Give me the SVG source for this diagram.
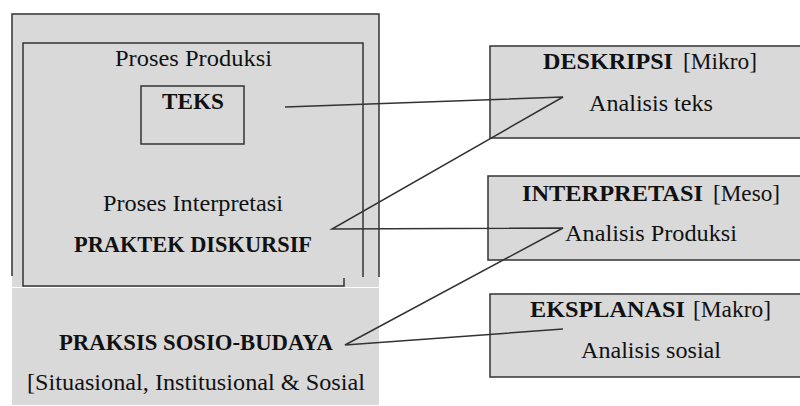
<svg xmlns="http://www.w3.org/2000/svg" width="800" height="406" viewBox="0 0 800 406">
<style>
text{font-family:"Liberation Serif","Times New Roman",serif;font-size:23px;fill:#111}
.b{font-weight:bold}
.box{fill:#d9d9d9;stroke:#333;stroke-width:1.5}
.ln{fill:none;stroke:#333;stroke-width:1.5}
.cn{fill:none;stroke:#333;stroke-width:1.5;stroke-linejoin:miter}
</style>
<rect width="800" height="406" fill="#fff"/>
<g id="left-frame">
<rect x="12" y="14" width="367" height="273" fill="#d9d9d9"/>
<rect x="12" y="288" width="367" height="117" fill="#d9d9d9"/>
<polyline class="ln" points="12,276 12,14 379,14 379,277"/>
<polyline class="ln" points="363,277 363,43 23,43 23,286 344,286 344,278"/>
</g>
<g id="proses-produksi">
<text x="115" y="66" textLength="157" lengthAdjust="spacingAndGlyphs">Proses Produksi</text>
</g>
<g id="teks">
<rect class="ln" x="141" y="86" width="103" height="58"/>
<text class="b" x="162" y="109" textLength="62" lengthAdjust="spacingAndGlyphs">TEKS</text>
</g>
<g id="praktek-diskursif">
<text x="103" y="211" textLength="180" lengthAdjust="spacingAndGlyphs">Proses Interpretasi</text>
<text class="b" x="74" y="252" textLength="238" lengthAdjust="spacingAndGlyphs">PRAKTEK DISKURSIF</text>
</g>
<g id="praksis-sosio-budaya">
<text class="b" x="59" y="350" textLength="274" lengthAdjust="spacingAndGlyphs">PRAKSIS SOSIO-BUDAYA</text>
<text x="27" y="390" textLength="338" lengthAdjust="spacingAndGlyphs">[Situasional, Institusional &amp; Sosial</text>
</g>
<g id="deskripsi">
<rect class="box" x="490" y="46" width="320" height="92"/>
<text class="b" x="543" y="69" textLength="130" lengthAdjust="spacingAndGlyphs">DESKRIPSI</text>
<text x="683" y="69" textLength="74" lengthAdjust="spacingAndGlyphs">[Mikro]</text>
<text x="589" y="111" textLength="124" lengthAdjust="spacingAndGlyphs">Analisis teks</text>
</g>
<g id="interpretasi">
<rect class="box" x="488" y="176" width="322" height="84"/>
<text class="b" x="522" y="201" textLength="181" lengthAdjust="spacingAndGlyphs">INTERPRETASI</text>
<text x="713" y="201" textLength="67" lengthAdjust="spacingAndGlyphs">[Meso]</text>
<text x="565" y="241" textLength="172" lengthAdjust="spacingAndGlyphs">Analisis Produksi</text>
</g>
<g id="eksplanasi">
<rect class="box" x="490" y="294" width="320" height="83"/>
<text class="b" x="530" y="317" textLength="155" lengthAdjust="spacingAndGlyphs">EKSPLANASI</text>
<text x="693" y="317" textLength="78" lengthAdjust="spacingAndGlyphs">[Makro]</text>
<text x="581" y="358" textLength="140" lengthAdjust="spacingAndGlyphs">Analisis sosial</text>
</g>
<g id="connectors">
<polyline class="cn" points="285,107 563,97 332,229 563,228 345,345 563,329"/>
</g>
</svg>
